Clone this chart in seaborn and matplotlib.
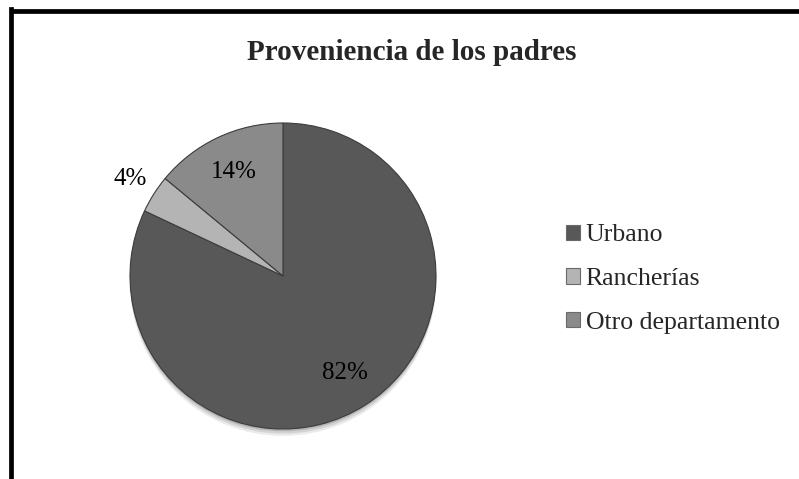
import matplotlib
matplotlib.use("Agg")
import matplotlib.pyplot as plt
from matplotlib.patches import Patch
from matplotlib.lines import Line2D
import seaborn as sns
import numpy as np

categories = ["Urbano", "Rancherías", "Otro departamento"]
values = [82, 4, 14]
title = "Proveniencia de los padres"

sns.set_theme(style="white")
plt.rcParams['font.family'] = ['Liberation Serif', 'DejaVu Serif']

colors = ["#585858", "#b4b4b4", "#8a8a8a"]

W, H = 799, 479
fig = plt.figure(figsize=(W / 100, H / 100), dpi=100)
fig.patch.set_facecolor("white")

cx, cy, r = 283, 276, 153
ax = fig.add_axes([(cx - r) / W, (H - cy - r) / H, 2 * r / W, 2 * r / H])

# soft shadow
for off, a in [(0.045, 0.08), (0.03, 0.10), (0.015, 0.14)]:
    c = plt.Circle((0, -off), 1.0, color="black", alpha=a, lw=0, zorder=0)
    c.set_clip_on(False)
    ax.add_patch(c)

wedges, texts, autotexts = ax.pie(
    values, colors=colors, startangle=90, counterclock=False,
    autopct=lambda p: f"{p:.0f}%", pctdistance=0.75,
    wedgeprops=dict(edgecolor="#3c3c3c", linewidth=0.8),
    textprops=dict(fontsize=18, color="black"),
)
for w in wedges:
    w.set_zorder(2)

# move small-slice label outside
total = sum(values)
start = 90.0
for v, t in zip(values, autotexts):
    ang = start - 360 * v / total / 2
    start -= 360 * v / total
    if v / total < 0.08:
        t.set_position((1.18 * np.cos(np.radians(ang)), 1.18 * np.sin(np.radians(ang))))
    t.set_zorder(5)

ax.set_xlim(-1, 1)
ax.set_ylim(-1, 1)
ax.set_aspect("equal")
ax.axis("off")

fig.text(412 / W, 1 - 52 / H, title, ha="center", va="center",
         fontsize=21, fontweight="bold")

handles = [Patch(facecolor=c, edgecolor="#6a6a6a", linewidth=0.8) for c in colors]
leg = fig.legend(handles, categories, loc="center left",
                 bbox_to_anchor=(556 / W, 1 - 279 / H), frameon=False,
                 fontsize=18.5, handlelength=0.55, handleheight=0.55,
                 handletextpad=0.2, labelspacing=0.84, borderaxespad=0)

# chart border (left and top)
fig.add_artist(Line2D([10.5 / W, 10.5 / W], [0, 1 - 9 / H], transform=fig.transFigure,
                      color="black", linewidth=3.4, solid_capstyle="projecting"))
fig.add_artist(Line2D([10.5 / W, 1.0], [1 - 11 / H, 1 - 11 / H], transform=fig.transFigure,
                      color="black", linewidth=3.4, solid_capstyle="butt"))

fig.savefig("out.png", dpi=100, facecolor="white")
